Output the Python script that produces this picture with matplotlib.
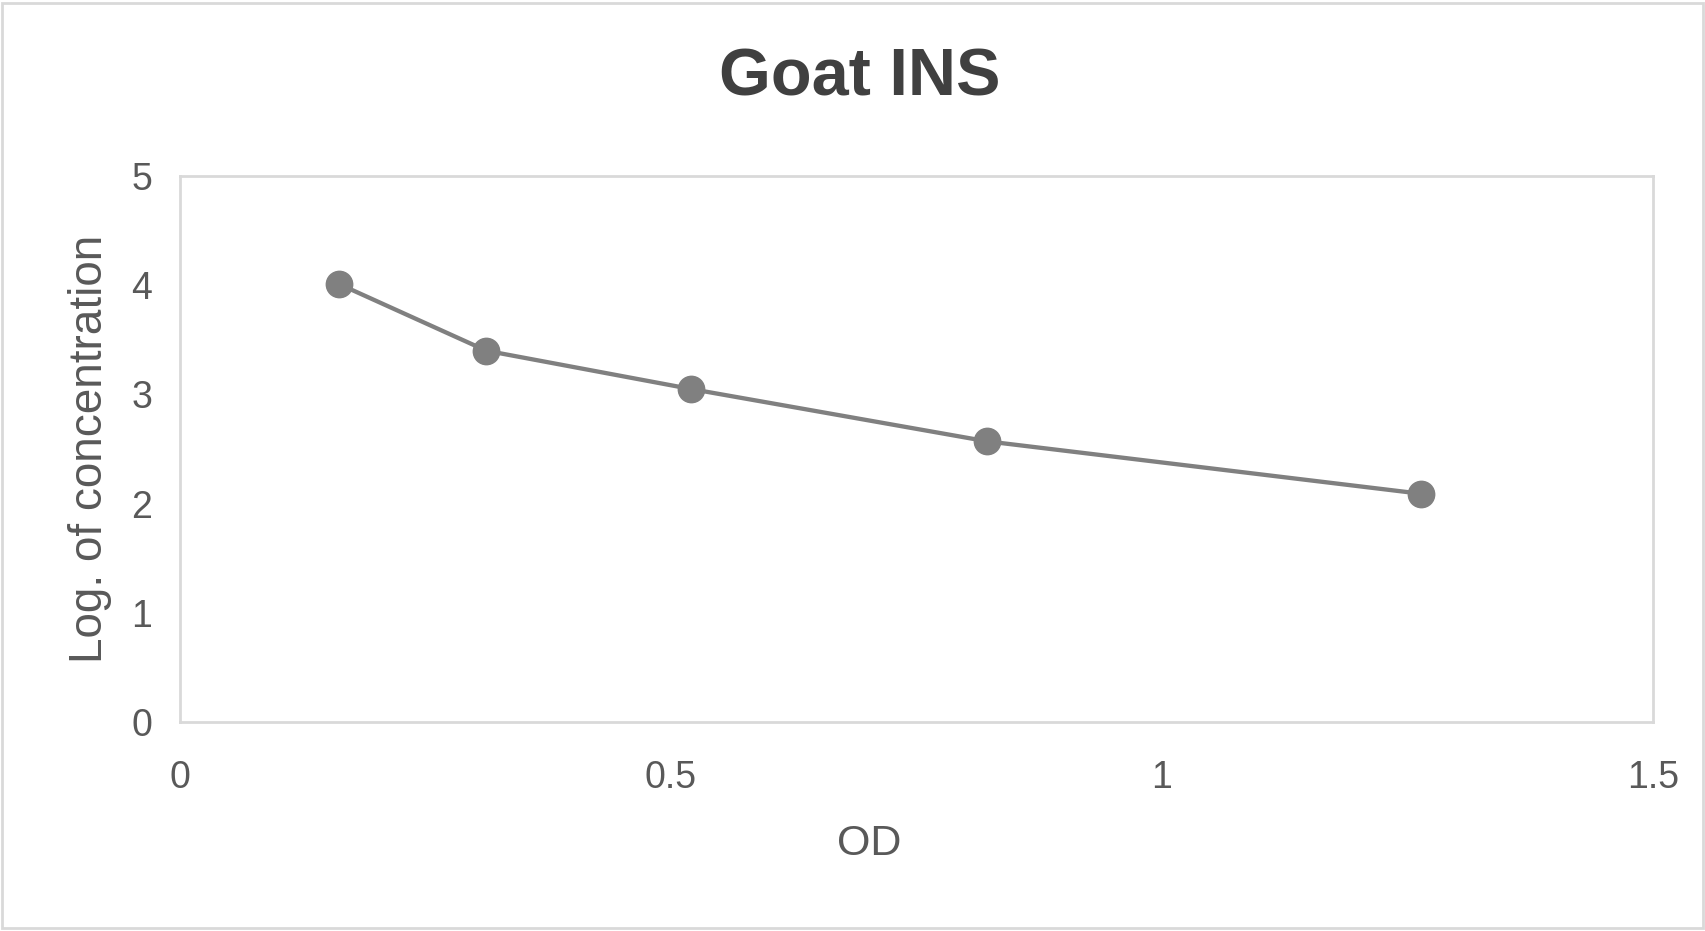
import matplotlib
matplotlib.use("Agg")
import matplotlib.pyplot as plt
from matplotlib.patches import Rectangle

# values
od = [0.162, 0.312, 0.520, 0.822, 1.264]
log_conc = [4.01, 3.40, 3.05, 2.57, 2.09]

x_ticks = [0, 0.5, 1, 1.5]
x_tick_labels = ["0", "0.5", "1", "1.5"]
y_ticks = [0, 1, 2, 3, 4, 5]

title = "Goat INS"
x_title = "OD"
y_title = "Log. of concentration"

plt.rcParams["font.family"] = ["Liberation Sans", "DejaVu Sans"]

W, H = 1706, 931
fig = plt.figure(figsize=(W / 100, H / 100), dpi=100)
fig.patch.set_facecolor("white")

# plot area in pixels: x 180..1653, y 176..722
left, right, top, bottom = 180, 1653, 176, 722
ax = fig.add_axes([left / W, 1 - bottom / H, (right - left) / W, (bottom - top) / H])

ax.plot(od, log_conc, color="#808080", linewidth=3.1, marker="o",
        markersize=19, markerfacecolor="#808080", markeredgecolor="#808080",
        solid_capstyle="round", zorder=3)

ax.set_xlim(0, 1.5)
ax.set_ylim(0, 5)
ax.set_xticks(x_ticks)
ax.set_xticklabels(x_tick_labels)
ax.set_yticks(y_ticks)

for side in ["left", "right", "top", "bottom"]:
    ax.spines[side].set_color("#d9d9d9")
    ax.spines[side].set_linewidth(2.0)

ax.tick_params(axis="both", length=0, labelsize=27, colors="#595959")
ax.tick_params(axis="x", pad=27)
ax.tick_params(axis="y", pad=20)

ax.set_xlabel(x_title, fontsize=31, color="#595959")
ax.set_ylabel(y_title, fontsize=33, color="#595959")
ax.xaxis.set_label_coords((869 - left) / (right - left), (bottom - 844) / (bottom - top))
ax.yaxis.set_label_coords((90 - left) / (right - left), 0.5)
ax.xaxis.label.set_va("center")
ax.yaxis.label.set_va("center")

fig.text(860 / W, 1 - 79 / H, title, ha="center", va="center",
         fontsize=48, fontweight="bold", color="#404040")

# light grey chart border
fig.patches.append(Rectangle((2 / W, 3 / H), (W - 5) / W, (H - 6) / H,
                             transform=fig.transFigure, fill=False,
                             edgecolor="#d9d9d9", linewidth=2.0))

fig.savefig("out.png", dpi=100, facecolor="white")
